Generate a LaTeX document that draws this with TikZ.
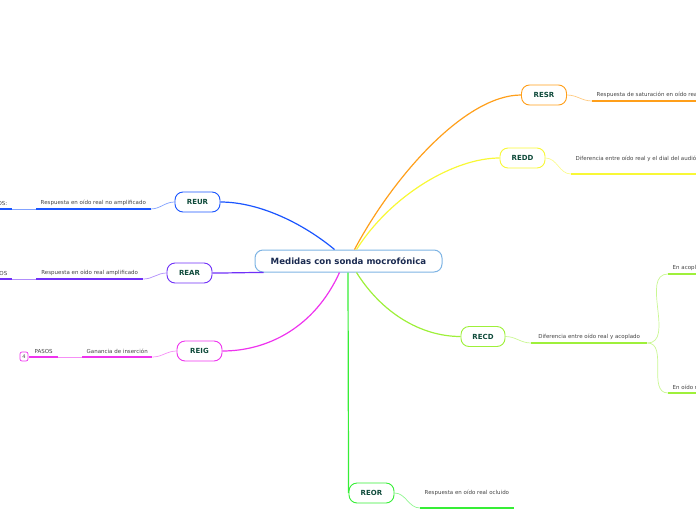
\documentclass[tikz,border=0pt]{standalone}
\usepackage{fontspec}
\setmainfont{DejaVu Sans}
\definecolor{cOr}{HTML}{FF9F1A}
\definecolor{cYe}{HTML}{F8F836}
\definecolor{cBl}{HTML}{1A55FF}
\definecolor{cPu}{HTML}{7030F8}
\definecolor{cMa}{HTML}{EE33EE}
\definecolor{cLg}{HTML}{9EF03A}
\definecolor{cGr}{HTML}{36EE36}
\definecolor{cCe}{HTML}{7EB4E4}
\definecolor{ctCe}{HTML}{1A2A50}
\definecolor{ctNo}{HTML}{0E4A3A}
\definecolor{ctSu}{HTML}{444444}
\tikzset{
  topic/.style={draw, rounded corners=8pt, line width=0.9pt, fill=white,
    minimum width=45pt, minimum height=20pt, inner sep=0pt,
    font=\fontsize{7}{8}\selectfont\bfseries, text=ctNo},
  centre/.style={draw=cCe, rounded corners=8pt, line width=1pt, fill=white,
    minimum width=187pt, minimum height=22pt, inner sep=0pt,
    font=\fontsize{8.6}{10}\selectfont\bfseries, text=ctCe},
  sub/.style={anchor=south west, inner xsep=4.5pt, inner ysep=3pt,
    font=\fontsize{5.5}{6.5}\selectfont, text=ctSu},
  subr/.style={sub, anchor=south east},
  ul/.style={line width=1.6pt},
  link/.style={line width=0.7pt, opacity=0.55},
  mainlink/.style={line width=1.2pt},
  badge/.style={draw=cMa, rounded corners=2pt, line width=0.7pt, minimum width=8pt,
    minimum height=9pt, inner sep=0pt, font=\fontsize{5}{6}\selectfont, text=ctSu}
}
\begin{document}
\begin{tikzpicture}[x=1pt,y=-1pt]
\useasboundingbox (0,0) rectangle (696,520);
\clip (0,0) rectangle (696,520);

% main topic
\node[centre] (C) at (348.5,261) {Medidas con sonda mocrofónica};

% topics
\node[topic, draw=cOr] (RESR) at (544,95) {RESR};
\node[topic, draw=cYe] (REDD) at (522.5,158) {REDD};
\node[topic, draw=cBl] (REUR) at (197.5,202) {REUR};
\node[topic, draw=cPu] (REAR) at (189.5,273) {REAR};
\node[topic, draw=cMa] (REIG) at (199.5,351) {REIG};
\node[topic, draw=cLg, minimum width=44pt] (RECD) at (483,336.5) {RECD};
\node[topic, draw=cGr] (REOR) at (371.5,493) {REOR};

% main connectors
\draw[mainlink, cOr] ([xshift=6pt]C.north) .. controls +(40,-75) and +(-55,0) .. (RESR.west);
\draw[mainlink, cYe] ([xshift=8pt]C.north) .. controls +(35,-55) and +(-45,0) .. (REDD.west);
\draw[mainlink, cBl] ([xshift=-14pt]C.north) .. controls +(-30,-25) and +(40,0) .. (REUR.east);
\draw[mainlink, cPu] ([xshift=-85pt]C.south) .. controls +(-20,0) and +(20,0) .. (REAR.east);
\draw[mainlink, cMa] ([xshift=-9pt]C.south) .. controls +(-25,55) and +(45,0) .. (REIG.east);
\draw[mainlink, cLg] ([xshift=8pt]C.south) .. controls +(25,40) and +(-40,0) .. (RECD.west);
\draw[mainlink, cGr] ([xshift=-0.5pt]C.south) -- (REOR.west);

% subtopics
\node[sub] (sR) at (592,101) {Respuesta de saturación en oído real};
\node[sub, text depth=10.5pt] (sD) at (571,174) {Diferencia entre oído real y el dial del audiómetro};
\node[sub, minimum width=114pt] (sU) at (36,209) {Respuesta en oído real no amplificado};
\node[subr] (sU2) at (12,209) {PASOS:};
\node[sub, minimum width=107pt] (sA) at (36,279) {Respuesta en oído real amplificado};
\node[subr] (sA2) at (12,279) {PASOS};
\node[sub, minimum width=70pt] (sI) at (82,357) {Ganancia de inserción};
\node[sub, minimum width=29pt] (sI2) at (29,357) {PASOS};
\node[badge] (b4) at (24,356.5) {4};
\node[sub, minimum width=116pt] (sC) at (531,343) {Diferencia entre oído real y acoplado};
\node[sub] (sC1) at (668,274) {En acoplador};
\node[sub] (sC2) at (668,393) {En oído real};
\node[sub, minimum width=93pt, text depth=10.5pt] (sO) at (420,508) {Respuesta en oído real ocluido};

% underlines
\draw[ul, cOr] (sR.south west) -- (sR.south east);
\draw[ul, cYe] (sD.south west) -- (sD.south east);
\draw[ul, cBl] (sU.south west) -- (sU.south east);
\draw[ul, cBl] (sU2.south west) -- (sU2.south east);
\draw[ul, cPu] (sA.south west) -- (sA.south east);
\draw[ul, cPu] (sA2.south west) -- (sA2.south east);
\draw[ul, cMa] (sI.south west) -- (sI.south east);
\draw[ul, cMa] (sI2.south west) -- (sI2.south east);
\draw[ul, cLg] (sC.south west) -- (sC.south east);
\draw[ul, cLg] (sC1.south west) -- (sC1.south east);
\draw[ul, cLg] (sC2.south west) -- (sC2.south east);
\draw[ul, cGr] (sO.south west) -- (sO.south east);

% links to subtopics
\draw[link, cOr] (RESR.east) to[out=0,in=180] (sR.south west);
\draw[link, cYe] (REDD.east) to[out=0,in=180] (sD.south west);
\draw[link, cBl] (REUR.west) to[out=180,in=0] (sU.south east);
\draw[link, cBl] (sU.south west) -- (sU2.south east);
\draw[link, cPu] (REAR.west) to[out=180,in=0] (sA.south east);
\draw[link, cPu] (sA.south west) -- (sA2.south east);
\draw[link, cMa] (REIG.west) to[out=180,in=0] (sI.south east);
\draw[link, cMa] (sI.south west) -- (sI2.south east);
\draw[link, cLg] (RECD.east) to[out=0,in=180] (sC.south west);
\draw[link, cLg] (sC.south east) to[out=0,in=180] (sC1.south west);
\draw[link, cLg] (sC.south east) to[out=0,in=180] (sC2.south west);
\draw[link, cGr] (REOR.east) to[out=0,in=180] (sO.south west);
\end{tikzpicture}
\end{document}
